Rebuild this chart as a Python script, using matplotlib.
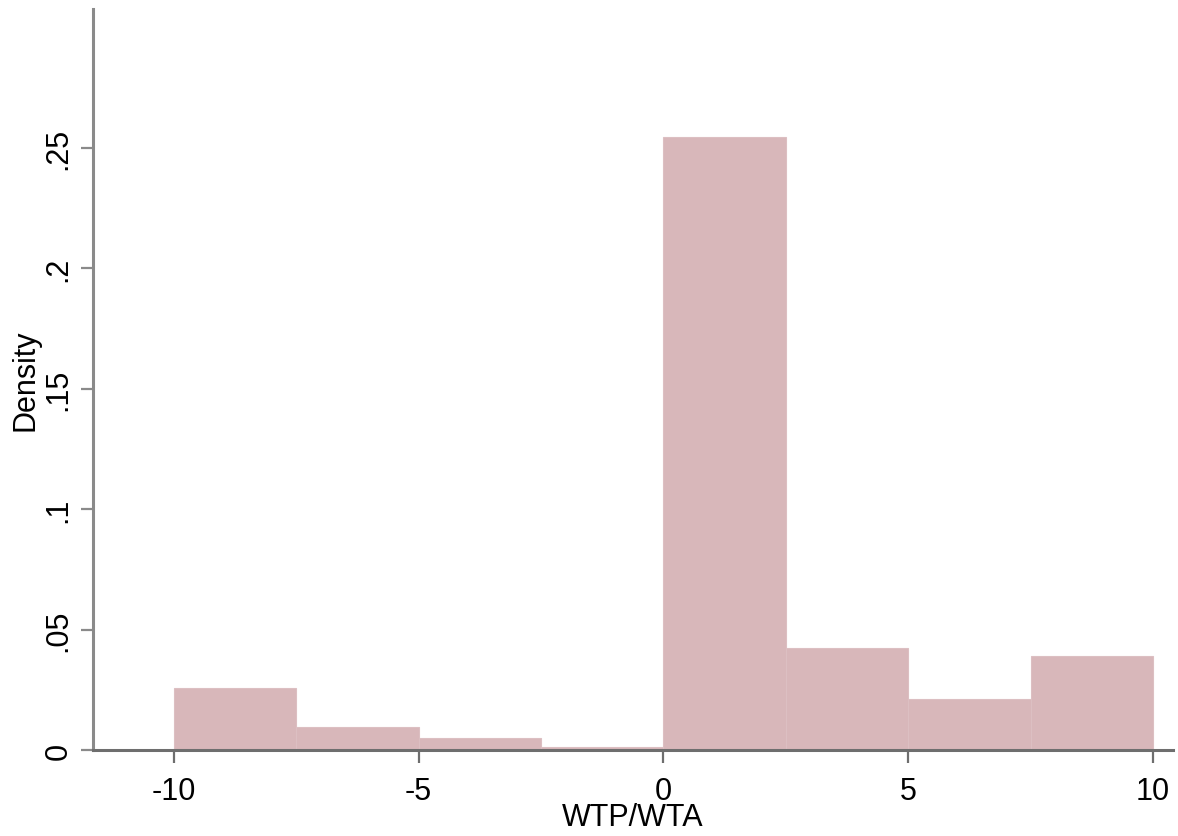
import matplotlib.pyplot as plt
import numpy as np

plt.rcParams['font.family'] = ['Liberation Sans', 'DejaVu Sans']

# histogram of WTP/WTA, bins of width 2.5
bin_edges = [-10, -7.5, -5, -2.5, 0, 2.5, 5, 7.5, 10]
density = [0.0257, 0.0095, 0.0050, 0.0014, 0.2546, 0.0424, 0.0212, 0.0390]
x_ticks = [-10, -5, 0, 5, 10]
y_ticks = [0, 0.05, 0.1, 0.15, 0.2, 0.25]
y_tick_labels = ['0', '.05', '.1', '.15', '.2', '.25']

fig = plt.figure(figsize=(11.78, 8.37), dpi=100)
ax = fig.add_axes([0.0789, 0.1027, 0.9169, 0.8853])

widths = np.diff(bin_edges)
ax.bar(bin_edges[:-1], density, width=widths, align='edge',
       color='#d8b7ba', edgecolor='#dcbfc2', linewidth=0.8)

ax.set_xlim(-11.65, 10.41)
ax.set_ylim(0, 0.3077)
ax.set_xticks(x_ticks)
ax.set_xticklabels([str(t) for t in x_ticks])
ax.set_yticks(y_ticks)
ax.set_yticklabels(y_tick_labels, rotation=90, va='center')

for side in ['top', 'right']:
    ax.spines[side].set_visible(False)
ax.spines['left'].set_color('#8a8a8a')
ax.spines['bottom'].set_color('#6e6e6e')
ax.spines['left'].set_linewidth(2.2)
ax.spines['bottom'].set_linewidth(2.2)

ax.tick_params(axis='x', length=9, width=1.6, color='#6e6e6e', labelsize=22, pad=9.5)
ax.tick_params(axis='y', length=9, width=1.6, color='#8a8a8a', labelsize=22, pad=5)

ax.set_xlabel('WTP/WTA', fontsize=22, labelpad=-2.5)
ax.set_ylabel('Density', fontsize=22, labelpad=2)

plt.savefig('out.png', dpi=100)
